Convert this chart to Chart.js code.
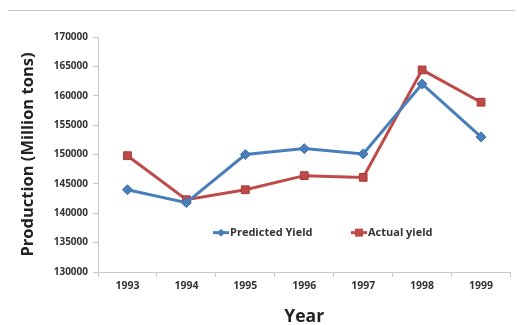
<!DOCTYPE html>
<html>
<head>
<meta charset="utf-8">
<script src="https://cdn.jsdelivr.net/npm/chart.js@4"></script>
<style>
  html, body { margin: 0; padding: 0; background: #fff; }
  #wrap { width: 517px; height: 325px; position: relative; }
</style>
</head>
<body>
<div id="wrap"><canvas id="c" width="517" height="325"></canvas></div>
<script>
const years = ['1993', '1994', '1995', '1996', '1997', '1998', '1999'];
const predictedYield = [144000, 141800, 150000, 151000, 150100, 162000, 153000];
const actualYield = [149800, 142300, 144000, 146400, 146100, 164400, 158900];
const yTicks = [130000, 135000, 140000, 145000, 150000, 155000, 160000, 165000, 170000];

const BLUE = '#4A7EBB';
const RED = '#BE4B48';
const FONT = '"Open Sans", sans-serif';

// Thin rule across the top and an in-plot legend with line + marker swatches
const decor = {
  id: 'decor',
  beforeDraw(chart) {
    const ctx = chart.ctx;
    ctx.save();
    ctx.strokeStyle = '#c8c8c8';
    ctx.lineWidth = 1;
    ctx.beginPath();
    ctx.moveTo(8, 10.5);
    ctx.lineTo(515, 10.5);
    ctx.stroke();
    ctx.restore();
  },
  afterDraw(chart) {
    const ctx = chart.ctx;
    const y = chart.scales.y.getPixelForValue(136700);
    const items = [
      { x: 213, label: chart.data.datasets[0].label, color: BLUE, shape: 'diamond' },
      { x: 351, label: chart.data.datasets[1].label, color: RED, shape: 'square' }
    ];
    ctx.save();
    items.forEach(it => {
      ctx.strokeStyle = it.color;
      ctx.lineWidth = 3;
      ctx.beginPath();
      ctx.moveTo(it.x, y);
      ctx.lineTo(it.x + 16, y);
      ctx.stroke();
      ctx.fillStyle = it.color;
      const cx = it.x + 8;
      ctx.beginPath();
      if (it.shape === 'diamond') {
        ctx.moveTo(cx, y - 4); ctx.lineTo(cx + 4, y); ctx.lineTo(cx, y + 4); ctx.lineTo(cx - 4, y);
      } else {
        ctx.rect(cx - 4, y - 4, 8, 8);
      }
      ctx.closePath();
      ctx.fill();
      ctx.fillStyle = '#333';
      ctx.font = 'bold 11px ' + FONT;
      ctx.textBaseline = 'middle';
      ctx.textAlign = 'left';
      ctx.fillText(it.label, it.x + 17, y + 0.5);
    });
    ctx.restore();
  }
};

new Chart(document.getElementById('c'), {
  type: 'line',
  data: {
    labels: years,
    datasets: [
      {
        label: 'Predicted Yield',
        data: predictedYield,
        borderColor: BLUE,
        backgroundColor: BLUE,
        pointBorderColor: '#3f6fa8',
        borderWidth: 3,
        pointStyle: 'rectRot',
        pointRadius: 5,
        pointBorderWidth: 1,
        tension: 0
      },
      {
        label: 'Actual yield',
        data: actualYield,
        borderColor: RED,
        backgroundColor: RED,
        pointBorderColor: '#a83c3a',
        borderWidth: 3,
        pointStyle: 'rect',
        pointRadius: 5.5,
        pointBorderWidth: 1,
        tension: 0
      }
    ]
  },
  options: {
    responsive: false,
    animation: false,
    layout: { padding: { top: 37, right: 3, left: 18, bottom: 0 } },
    plugins: {
      legend: { display: false },
      tooltip: { enabled: false }
    },
    scales: {
      x: {
        offset: true,
        afterFit(s) { s.height = 53; },
        grid: {
          offset: true,
          drawOnChartArea: false,
          color: '#c8c8c8',
          tickLength: 5
        },
        border: { color: '#c8c8c8' },
        ticks: {
          color: '#333',
          font: { family: FONT, size: 10.5, weight: 'bold' },
          padding: 3
        },
        title: {
          display: true,
          text: 'Year',
          color: '#222',
          font: { family: FONT, size: 17.5, weight: 'bold' },
          padding: { top: 10, bottom: -3 }
        }
      },
      y: {
        min: 130000,
        max: 170000,
        afterFit(s) { s.width = 80; },
        afterBuildTicks(s) { s.ticks = yTicks.map(v => ({ value: v })); },
        grid: {
          drawOnChartArea: false,
          color: '#c8c8c8',
          tickLength: 5
        },
        border: { color: '#c8c8c8' },
        ticks: {
          color: '#333',
          font: { family: FONT, size: 10, weight: 'bold' },
          padding: 5,
          callback: v => String(v)
        },
        title: {
          display: true,
          text: 'Production (Million tons)',
          color: '#222',
          font: { family: FONT, size: 16.5, weight: 'bold' },
          padding: { top: 0, bottom: 3 }
        }
      }
    }
  },
  plugins: [decor]
});
</script>
</body>
</html>
